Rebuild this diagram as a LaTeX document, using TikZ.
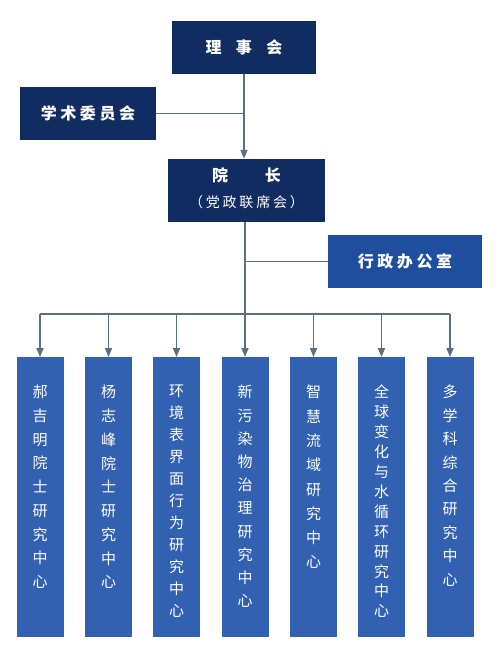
\documentclass[tikz,border=0pt]{standalone}
\usepackage{fontspec}
\usetikzlibrary{arrows.meta}
\newfontfamily\cjk{Noto Sans CJK SC}
\newfontfamily\cjkwide[LetterSpace=22]{Noto Sans CJK SC}
\newfontfamily\cjkparen[LetterSpace=20]{Noto Sans CJK SC}
\definecolor{INSTnavy}{RGB}{17,44,96}
\definecolor{INSTblue}{RGB}{32,78,158}
\definecolor{INSTlblue}{RGB}{50,97,178}
\definecolor{INSTline}{RGB}{88,112,128}

\begin{document}
\begin{tikzpicture}[x=1pt, y=-1pt,
	topbox/.style={fill=INSTnavy, text=white, inner sep=0, font=\cjk\bfseries\fontsize{16}{20}\selectfont},
	colbox/.style={fill=INSTlblue, anchor=north, minimum width=47pt, minimum height=280pt, inner sep=0},
	coltext/.style={anchor=north, text=white, inner sep=0, align=center},
	link/.style={INSTline, line width=1.6pt},
	every node/.style={}
	]
	\useasboundingbox (0,0) rectangle (500,664);

	\node (board) at (244,47.5) [topbox, minimum width=144pt, minimum height=53pt] {理\hspace{0.9em}事\hspace{0.9em}会};
	\node (acad) at (88,113.5) [topbox, minimum width=136pt, minimum height=53pt] {\cjkwide\bfseries 学术委员会};
	\node (dean) at (246.5,190.5) [topbox, minimum width=157pt, minimum height=63pt, align=center] {院\hspace{2.3em}长\\[6pt]{\cjkparen\mdseries\fontsize{14}{16}\selectfont （党政联席会）\rule[-5pt]{0pt}{5pt}}};
	\node (office) at (405,261.5) [topbox, fill=INSTblue, minimum width=154pt, minimum height=53pt] {\cjkwide\bfseries 行政办公室};

	\coordinate (bus) at (245,314);

	\foreach \x/\pitch/\name [count=\i] in {40/23.75/郝\\吉\\明\\院\\士\\研\\究\\中\\心,
		108.5/23.75/杨\\志\\峰\\院\\士\\研\\究\\中\\心,
		176.5/22/环\\境\\表\\界\\面\\行\\为\\研\\究\\中\\心,
		245/23.2/新\\污\\染\\物\\治\\理\\研\\究\\中\\心,
		313.5/24.3/智\\慧\\流\\域\\研\\究\\中\\心,
		381.5/19.9/全\\球\\变\\化\\与\\水\\循\\环\\研\\究\\中\\心,
		450/23.4/多\\学\\科\\综\\合\\研\\究\\中\\心} {
		\node (c\i) at (\x,357) [colbox] {};
		\node at ([yshift=-28pt]c\i.north) [coltext, font=\cjk\fontsize{15}{\pitch}\selectfont] {\name};
		\draw [link, -{Triangle[width=7pt,length=9pt]}] (c\i.north |- bus) -- (c\i.north);
	}

	\draw [link, -{Triangle[width=7pt,length=9pt]}] (board.south) -- (board.south |- dean.north);
	\draw [link] (acad.east) -- (board.south |- acad.east);
	\draw [link] (dean.south -| bus) -- (bus);
	\draw [link] (office.west) -- (office.west -| bus);
	\draw [link] (c1.north |- bus) -- (c7.north |- bus);
\end{tikzpicture}
\end{document}
